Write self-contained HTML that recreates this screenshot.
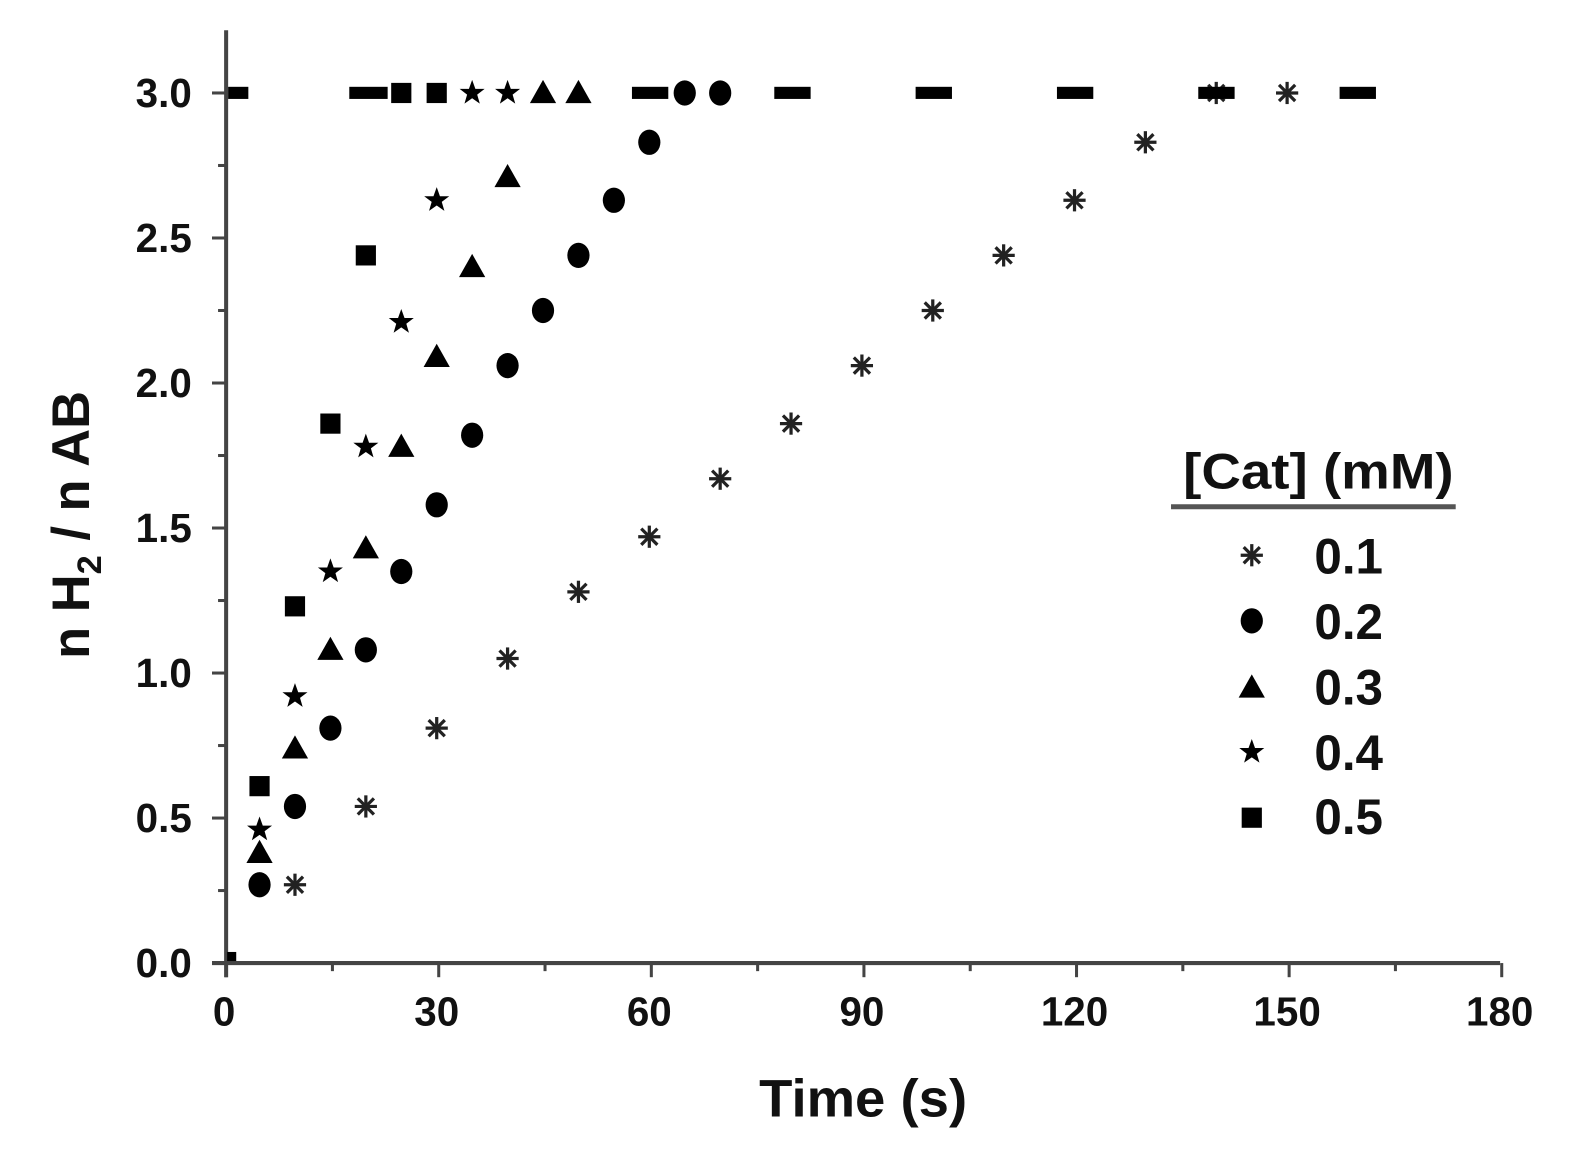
<!DOCTYPE html>
<html><head><meta charset="utf-8"><style>
html,body{margin:0;padding:0;background:#fff;}
svg{display:block;}
text{font-family:"Liberation Sans",Arial,sans-serif;font-weight:bold;fill:#111;}
</style></head><body>
<svg id="s" width="1584" height="1161" viewBox="0 0 1584 1161" xmlns="http://www.w3.org/2000/svg">
<defs>
<g id="ast" stroke="#222" stroke-width="3.2" fill="none"><line x1="-11" y1="0" x2="11" y2="0"/><line x1="0" y1="-11" x2="0" y2="11"/><line x1="-8" y1="-8" x2="8" y2="8"/><line x1="-8" y1="8" x2="8" y2="-8"/></g>
<ellipse id="cir" cx="0" cy="0" rx="11" ry="12.5" fill="#000"/>
<polygon id="tri" points="0,-13 13,10 -13,10" fill="#000"/>
<polygon id="star" fill="#000" points="0,-13 3.2,-4 12.4,-4 5,1.6 7.6,10.5 0,5.2 -7.6,10.5 -5,1.6 -12.4,-4 -3.2,-4"/>
<rect id="sq" x="-10" y="-10" width="20" height="20" fill="#000"/>
</defs>
<g transform="scale(1.0095)">
<g id="axes" stroke="#444" stroke-width="4" fill="none">
<line x1="224" y1="30" x2="224" y2="968"/>
<line x1="210" y1="954" x2="1486" y2="954"/>
</g>
<g id="ticks" stroke="#444" stroke-width="3"></g>
<g id="lbl"></g>
<g id="data"></g>
<g fill="#000">
<rect x="226" y="86" width="20" height="12"/>
<rect x="346" y="86" width="38" height="12"/>
<rect x="626" y="86" width="36" height="12"/>
<rect x="767" y="86" width="36" height="12"/>
<rect x="907" y="86" width="36" height="12"/>
<rect x="1047" y="86" width="36" height="12"/>
<rect x="1187" y="86" width="36" height="12"/>
<rect x="1327" y="86" width="36" height="12"/>
<rect x="225" y="943" width="9" height="9"/>
</g>
<text x="855" y="1106" font-size="52" text-anchor="middle" textLength="206" lengthAdjust="spacingAndGlyphs">Time (s)</text>
<text transform="translate(88,520) rotate(-90)" font-size="52" text-anchor="middle">n H<tspan font-size="34" dy="12">2</tspan><tspan dy="-12"> / n AB</tspan></text>
<text x="1172" y="484" font-size="50" textLength="268" lengthAdjust="spacingAndGlyphs">[Cat] (mM)</text>
<line x1="1160" y1="502" x2="1442" y2="502" stroke="#555" stroke-width="5"/>
<use href="#ast" x="1240" y="550"/>
<use href="#cir" x="1240" y="615"/>
<use href="#tri" x="1240" y="681"/>
<use href="#star" x="1240" y="745"/>
<use href="#sq" x="1240" y="810"/>
<text x="1302" y="568" font-size="50" textLength="68" lengthAdjust="spacingAndGlyphs">0.1</text>
<text x="1302" y="633" font-size="50" textLength="68" lengthAdjust="spacingAndGlyphs">0.2</text>
<text x="1302" y="698" font-size="50" textLength="68" lengthAdjust="spacingAndGlyphs">0.3</text>
<text x="1302" y="763" font-size="50" textLength="68" lengthAdjust="spacingAndGlyphs">0.4</text>
<text x="1302" y="826" font-size="50" textLength="68" lengthAdjust="spacingAndGlyphs">0.5</text>
</g>
</svg>
<script>
(function(){
var NS="http://www.w3.org/2000/svg";
function X(t){return 222+7.02*t;} function Y(v){return 954-287.3*v;}
function el(p,n,a,txt){var e=document.createElementNS(NS,n);for(var k in a)e.setAttribute(k,a[k]);if(txt!=null)e.textContent=txt;document.getElementById(p).appendChild(e);return e;}
for(var t=0;t<=180;t+=15){var maj=t%30==0;el("ticks","line",{x1:X(t)+2,y1:954,x2:X(t)+2,y2:954+(maj?14:8)});
 if(maj)el("lbl","text",{x:X(t),y:1016,"font-size":40,"text-anchor":"middle"},String(t));}
for(var i=0;i<=12;i++){var v=i*0.25,maj=i%2==0;el("ticks","line",{x1:224,y1:Y(v),x2:224-(maj?14:8),y2:Y(v)});
 if(maj)el("lbl","text",{x:190,y:Y(v)+14,"font-size":40,"text-anchor":"end"},v.toFixed(1));}
var S={
ast:[[10,.27],[20,.54],[30,.81],[40,1.05],[50,1.28],[60,1.47],[70,1.67],[80,1.86],[90,2.06],[100,2.25],[110,2.44],[120,2.63],[130,2.83],[140,3],[150,3]],
cir:[[5,.27],[10,.54],[15,.81],[20,1.08],[25,1.35],[30,1.58],[35,1.82],[40,2.06],[45,2.25],[50,2.44],[55,2.63],[60,2.83],[65,3],[70,3]],
tri:[[5,.38],[10,.74],[15,1.08],[20,1.43],[25,1.78],[30,2.09],[35,2.40],[40,2.71],[45,3],[50,3]],
star:[[5,.46],[10,.92],[15,1.35],[20,1.78],[25,2.21],[30,2.63],[35,3],[40,3]],
sq:[[5,.61],[10,1.23],[15,1.86],[20,2.44],[25,3],[30,3]]};
for(var k in S)S[k].forEach(function(p){el("data","use",{href:"#"+k,x:X(p[0]),y:Y(p[1])});});
})();
</script>
</body></html>
